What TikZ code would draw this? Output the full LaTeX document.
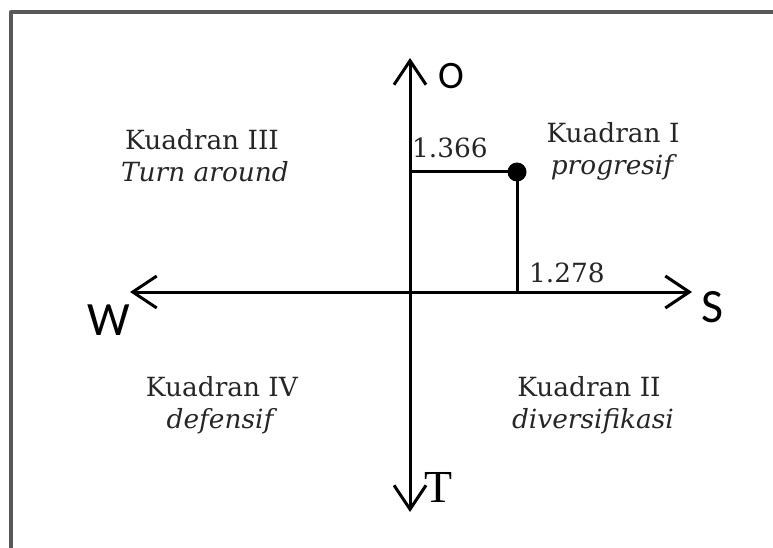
\documentclass[tikz,border=0pt]{standalone}
\usepackage{fontspec}
\setmainfont{DejaVu Serif}
\newfontfamily\dirsans{Carlito}
\newfontfamily\dirserif{Liberation Serif}
\usetikzlibrary{arrows.meta}

\begin{document}
\begin{tikzpicture}[x=1bp, y=-1bp, line join=round, >={Straight Barb[length=24bp,width=32bp]},
  axis/.style={line width=3bp},
  quad/.style={font=\fontsize{26.5}{30}\selectfont, anchor=base, inner sep=0pt, text=black!85},
  num/.style={font=\fontsize{26.5}{30}\selectfont, anchor=base west, inner sep=0pt, text=black!85},
  dir/.style={font=\dirsans\fontsize{48}{48}\selectfont, anchor=base west, inner sep=0pt}]
 \useasboundingbox (0,0) rectangle (773,548);
 \draw[line width=4bp, black!65] (11,548)--(11,12)--(773,12);
 % axes
 \coordinate (o) at (410,292);
 \coordinate (north) at (410,58);
 \coordinate (south) at (410,512);
 \coordinate (west) at (130,292);
 \coordinate (east) at (692,292);
 \draw[axis,<->] (south)--(north);
 \draw[axis,<->] (west)--(east);
 \node[dir, font=\dirsans\fontsize{39}{39}\selectfont] (lo) at (438,89) {O};
 \node[dir] (ls) at (701,322) {S};
 \node[dir] (lw) at (87,335) {W};
 \node[dir, font=\dirserif\fontsize{46}{46}\selectfont] (lt) at (424,502) {T};
 % point
 \node[circle, fill, inner sep=0pt, minimum size=19bp] (pt) at (517,172) {};
 \coordinate (py) at (o |- pt);
 \coordinate (px) at (pt |- o);
 \draw[axis] (py)--(pt.center)--(px);
 \node[num] (ny) at (412,158) {1.366};
 \node[num] (nx) at (529,283) {1.278};
 % quadrants
 \node[quad] (k3) at (202,150) {Kuadran III};
 \node[quad] (k3s) at (205,182) {\itshape Turn around};
 \node[quad] (k1) at (613,143) {Kuadran I};
 \node[quad] (k1s) at (612,175) {\itshape progresif};
 \node[quad] (k4) at (222,396) {Kuadran IV};
 \node[quad] (k4s) at (220,428) {\itshape defensif};
 \node[quad] (k2) at (589,396) {Kuadran II};
 \node[quad] (k2s) at (593,428) {\itshape diversifikasi};
\end{tikzpicture}
\end{document}
